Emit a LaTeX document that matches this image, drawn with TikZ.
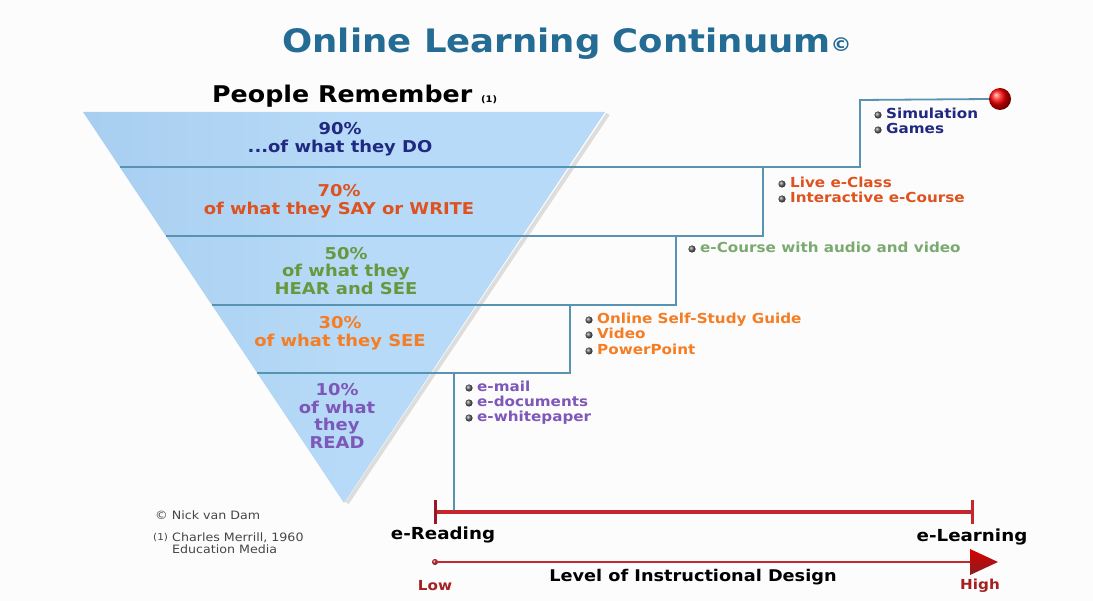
\documentclass[tikz,border=0pt]{standalone}
\usepackage{fontspec}
\setmainfont{DejaVu Sans}[FakeStretch=1.1]
\usetikzlibrary{calc}
\definecolor{navy}{RGB}{32,40,130}
\definecolor{ored}{RGB}{222,82,32}
\definecolor{grn}{RGB}{104,152,62}
\definecolor{lgrn}{RGB}{122,170,112}
\definecolor{orng}{RGB}{245,125,35}
\definecolor{purp}{RGB}{125,88,185}
\definecolor{steel}{RGB}{88,148,178}
\definecolor{barred}{RGB}{196,40,45}
\definecolor{lowred}{RGB}{165,32,32}
\definecolor{tri}{RGB}{182,218,247}
\definecolor{tridark}{RGB}{168,206,240}
\definecolor{titleblue}{RGB}{36,108,148}
\definecolor{foot}{RGB}{70,70,70}
\newcommand\litem[5]{%
  \node[item,text=#4] (#1) at (#2,#3) {#5};
  \shade[ball color=black!60] ($(#1.base west)+(-8,-4)$) circle (3.6);
}
\begin{document}
\begin{tikzpicture}[x=1pt,y=-1pt,
  band/.style={font=\fontsize{16.3}{17.5}\selectfont\bfseries, align=center, inner sep=0},
  item/.style={font=\fontsize{13.8}{15}\selectfont\bfseries, anchor=base west, inner sep=0},
  stair/.style={draw=steel, line width=1.8pt},
  bandline/.style={draw=steel, line width=1.5pt},
  footnote/.style={font=\fontsize{11.5}{12}\selectfont, text=foot, anchor=base west, inner sep=0}]
\useasboundingbox (0,0) rectangle (1093,601);
\fill[white!98!gray] (0,0) rectangle (1093,601);

% title
\node[font=\fontsize{32.3}{36}\selectfont\bfseries, text=titleblue, inner sep=0] (title) at (567,44)
  {Online Learning Continuum{\fontsize{19}{20}\selectfont\raisebox{1pt}{©}}};
\node[font=\fontsize{23}{26}\selectfont\bfseries, anchor=base west, inner sep=0] (people) at (212,103)
  {People Remember {\fontsize{9}{9}\selectfont (1)}};

% triangle
\coordinate (tl) at (83,112);
\coordinate (tr) at (605,112);
\coordinate (apex) at (344,503);
\shade[left color=tridark, right color=tri, middle color=tri] (tl) -- (tr) -- (apex) -- cycle;
\draw[line width=4pt, black!35, opacity=0.35] ($(tr)+(3,2)$) -- ($(apex)+(3,0)$);

% stair coordinates
\coordinate (s0) at (454,512);
\coordinate (s1) at (454,373);
\coordinate (s2) at (570,373);
\coordinate (s3) at (570,305);
\coordinate (s4) at (676,305);
\coordinate (s5) at (676,236);
\coordinate (s6) at (763,236);
\coordinate (s7) at (763,167);
\coordinate (s8) at (860,167);
\coordinate (s9) at (860,100);
\node[circle, minimum size=22pt, inner sep=0, ball color=red, shading=ball] (ball) at (1000,99) {};

% band lines from the left edge
\coordinate (b1) at (120,167);
\coordinate (b2) at (166,236);
\coordinate (b3) at (212,305);
\coordinate (b4) at (257,373);
\draw[bandline] (b1) -- (s8);
\draw[bandline] (b2) -- (s6);
\draw[bandline] (b3) -- (s4);
\draw[bandline] (b4) -- (s2);
\draw[stair] (s0) -- (s1) -- (s2) -- (s3) -- (s4) -- (s5) -- (s6) -- (s7) -- (s8) -- (s9) -- (ball.west);

% band texts
\node[band, text=navy] (t90) at (340,139) {90\%\\...of what they DO};
\node[band, text=ored] (t70) at (339,201) {70\%\\of what they SAY or WRITE};
\node[band, text=grn] (t50) at (346,271) {50\%\\of what they\\HEAR and SEE};
\node[band, text=orng] (t30) at (340,333) {30\%\\of what they SEE};
\node[band, text=purp] (t10) at (337,416) {10\%\\of what\\they\\READ};

% lists
\litem{sim}{886}{119}{navy}{Simulation}
\litem{gam}{886}{134}{navy}{Games}
\litem{live}{790}{188}{ored}{Live e-Class}
\litem{inter}{790}{203}{ored}{Interactive e-Course}
\litem{ecourse}{700}{253}{lgrn}{e-Course with audio and video}
\litem{osg}{597}{324}{orng}{Online Self-Study Guide}
\litem{vid}{597}{339}{orng}{Video}
\litem{ppt}{597}{355}{orng}{PowerPoint}
\litem{mail}{477}{392}{purp}{e-mail}
\litem{docs}{477}{407}{purp}{e-documents}
\litem{white}{477}{422}{purp}{e-whitepaper}

% footnotes
\node[footnote] (nick) at (155,519) {© Nick van Dam};
\node[footnote, font=\fontsize{9.5}{10}\selectfont] (fn1) at (153,540) {(1)};
\node[footnote] (merrill) at (172,541) {Charles Merrill, 1960};
\node[footnote] (edu) at (172,553) {Education Media};

% red bar
\coordinate (barL) at (435,512);
\coordinate (barR) at (972,512);
\draw[barred, line width=4pt] (barL) -- (barR);
\draw[barred!70!purple!80!black, line width=3pt] ($(barL)+(0,-12)$) -- ($(barL)+(0,12)$);
\draw[barred, line width=3pt] ($(barR)+(0,-12)$) -- ($(barR)+(0,12)$);
\node[font=\fontsize{16.6}{18}\selectfont\bfseries, inner sep=0] (eread) at (443,535) {e-Reading};
\node[font=\fontsize{16.6}{18}\selectfont\bfseries, inner sep=0] (elearn) at (972,537) {e-Learning};

% instructional design arrow
\shade[ball color=barred] (435,562) circle (3);
\coordinate (lowpt) at (435,562);
\coordinate (tipbase) at (972,562);
\draw[barred, line width=1.2pt] (lowpt) -- (tipbase);
\shade[top color=red!85!black, bottom color=barred!70!black] (970,549) -- (998,562) -- (970,575) -- cycle;
\node[font=\fontsize{13.8}{14}\selectfont\bfseries, text=lowred, inner sep=0] (low) at (435,586) {Low};
\node[font=\fontsize{13.8}{14}\selectfont\bfseries, text=lowred, inner sep=0] (high) at (980,586) {High};
\node[font=\fontsize{16.1}{18}\selectfont\bfseries, inner sep=0] (level) at (693,577) {Level of Instructional Design};
\end{tikzpicture}
\end{document}
